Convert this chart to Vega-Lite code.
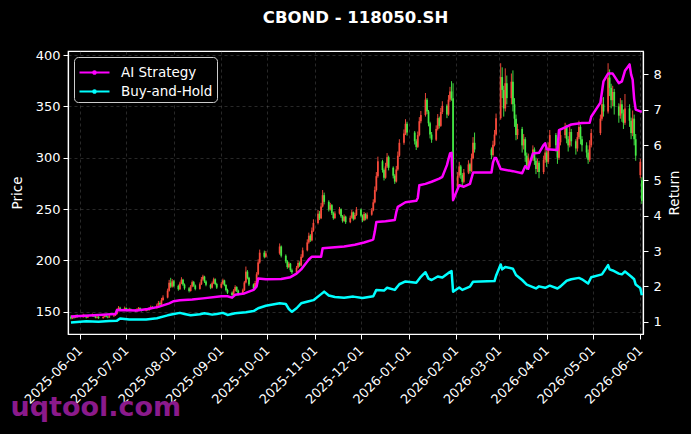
{
"$schema": "https://vega.github.io/schema/vega-lite/v6.json",
"width": 575, "height": 283,
"autosize": {"type": "none"},
"padding": {"left": 68, "top": 51, "right": 48, "bottom": 100},
"background": "#000000",
"title": {"text": "CBOND - 118050.SH", "color": "#ffffff", "fontSize": 16.5, "fontWeight": "bold", "font": "DejaVu Sans", "anchor": "middle", "offset": 23},
"datasets": {
"candles": [
{"d":"2025-05-26","o":145,"h":146.5,"l":142.5,"c":143.5},
{"d":"2025-05-27","o":143.5,"h":146,"l":142.8,"c":145},
{"d":"2025-05-28","o":145,"h":146.2,"l":143.2,"c":144.2},
{"d":"2025-05-29","o":144.2,"h":147,"l":143.8,"c":146},
{"d":"2025-05-30","o":146,"h":147.5,"l":144,"c":144.8},
{"d":"2025-06-03","o":144.8,"h":148,"l":144.2,"c":146.5},
{"d":"2025-06-04","o":146.5,"h":147.2,"l":144.6,"c":145.2},
{"d":"2025-06-05","o":145.2,"h":146,"l":143.5,"c":144.3},
{"d":"2025-06-06","o":144.3,"h":146.8,"l":143.9,"c":145.8},
{"d":"2025-06-09","o":145.8,"h":148.2,"l":145.2,"c":146.8},
{"d":"2025-06-10","o":146.8,"h":147.5,"l":144.8,"c":145.4},
{"d":"2025-06-11","o":145.4,"h":146.2,"l":143.6,"c":144.2},
{"d":"2025-06-12","o":144.2,"h":146,"l":143.4,"c":145},
{"d":"2025-06-13","o":145,"h":145.8,"l":143,"c":143.8},
{"d":"2025-06-16","o":143.8,"h":146,"l":143.2,"c":144.9},
{"d":"2025-06-17","o":144.9,"h":147.4,"l":144.4,"c":146.2},
{"d":"2025-06-18","o":146.2,"h":147,"l":144.5,"c":145.1},
{"d":"2025-06-19","o":145.1,"h":146,"l":143.6,"c":144.4},
{"d":"2025-06-20","o":144.4,"h":146.8,"l":144,"c":145.6},
{"d":"2025-06-23","o":145.6,"h":147.5,"l":145,"c":146.4},
{"d":"2025-06-24","o":146.4,"h":149,"l":145.8,"c":147.8},
{"d":"2025-06-25","o":147.8,"h":153,"l":147.2,"c":151.5},
{"d":"2025-06-26","o":151.5,"h":155.5,"l":150.8,"c":153.8},
{"d":"2025-06-27","o":153.8,"h":154.8,"l":151.5,"c":152.4},
{"d":"2025-06-30","o":152.4,"h":155,"l":151.8,"c":153.6},
{"d":"2025-07-01","o":153.6,"h":154.2,"l":151.2,"c":152},
{"d":"2025-07-02","o":152,"h":153,"l":150.3,"c":151.2},
{"d":"2025-07-03","o":151.2,"h":153.8,"l":150.6,"c":152.6},
{"d":"2025-07-04","o":152.6,"h":153.2,"l":150.8,"c":151.4},
{"d":"2025-07-07","o":151.4,"h":152.4,"l":149.8,"c":150.6},
{"d":"2025-07-08","o":150.6,"h":153.4,"l":150,"c":152.2},
{"d":"2025-07-09","o":152.2,"h":154.6,"l":151.6,"c":153.5},
{"d":"2025-07-10","o":153.5,"h":154.2,"l":151.4,"c":152.1},
{"d":"2025-07-11","o":152.1,"h":152.8,"l":150.2,"c":151},
{"d":"2025-07-14","o":151,"h":153.6,"l":150.4,"c":152.4},
{"d":"2025-07-15","o":152.4,"h":153.2,"l":150.9,"c":151.6},
{"d":"2025-07-16","o":151.6,"h":154.4,"l":151,"c":153},
{"d":"2025-07-17","o":153,"h":156,"l":152.4,"c":154.5},
{"d":"2025-07-18","o":154.5,"h":155.6,"l":152.8,"c":153.6},
{"d":"2025-07-21","o":153.6,"h":157.8,"l":153,"c":156.2},
{"d":"2025-07-22","o":156.2,"h":160.5,"l":155.6,"c":158.5},
{"d":"2025-07-23","o":158.5,"h":160,"l":156,"c":157},
{"d":"2025-07-24","o":157,"h":163.5,"l":156.5,"c":161.5},
{"d":"2025-07-25","o":161.5,"h":166,"l":160.6,"c":163.8},
{"d":"2025-07-28","o":163.8,"h":172.5,"l":163,"c":170.5},
{"d":"2025-07-29","o":170.5,"h":181,"l":169.6,"c":178.2},
{"d":"2025-07-30","o":178.2,"h":183,"l":173.2,"c":174.5},
{"d":"2025-07-31","o":174.5,"h":181.8,"l":173.5,"c":179.6},
{"d":"2025-08-01","o":179.6,"h":180.8,"l":173.8,"c":175.2},
{"d":"2025-08-04","o":175.2,"h":176.4,"l":170.5,"c":172},
{"d":"2025-08-05","o":172,"h":179.2,"l":171.2,"c":177.5},
{"d":"2025-08-06","o":177.5,"h":183.6,"l":176.8,"c":181.2},
{"d":"2025-08-07","o":181.2,"h":182,"l":175.2,"c":176.4},
{"d":"2025-08-08","o":176.4,"h":177.5,"l":171.4,"c":172.8},
{"d":"2025-08-11","o":172.8,"h":174,"l":168.8,"c":170.2},
{"d":"2025-08-12","o":170.2,"h":176,"l":169.6,"c":174.6},
{"d":"2025-08-13","o":174.6,"h":180.4,"l":173.8,"c":178.8},
{"d":"2025-08-14","o":178.8,"h":180,"l":174.2,"c":175.5},
{"d":"2025-08-15","o":175.5,"h":176.5,"l":170.8,"c":172.2},
{"d":"2025-08-18","o":172.2,"h":178.5,"l":171.5,"c":176.8},
{"d":"2025-08-19","o":176.8,"h":183.8,"l":176,"c":181.4},
{"d":"2025-08-20","o":181.4,"h":186,"l":180.2,"c":184.2},
{"d":"2025-08-21","o":184.2,"h":185,"l":178,"c":179.5},
{"d":"2025-08-22","o":179.5,"h":180.6,"l":174.8,"c":176.2},
{"d":"2025-08-25","o":176.2,"h":177.2,"l":172,"c":173.4},
{"d":"2025-08-26","o":173.4,"h":179.4,"l":172.6,"c":177.8},
{"d":"2025-08-27","o":177.8,"h":183.2,"l":176.9,"c":181.6},
{"d":"2025-08-28","o":181.6,"h":182.5,"l":175.8,"c":177},
{"d":"2025-08-29","o":177,"h":178.2,"l":172.2,"c":173.5},
{"d":"2025-09-01","o":173.5,"h":178.8,"l":172.8,"c":177.2},
{"d":"2025-09-02","o":177.2,"h":182.2,"l":176.4,"c":180.5},
{"d":"2025-09-03","o":180.5,"h":181.2,"l":174.8,"c":176},
{"d":"2025-09-04","o":176,"h":176.8,"l":169.8,"c":171.2},
{"d":"2025-09-05","o":171.2,"h":172.4,"l":167.2,"c":168.5},
{"d":"2025-09-08","o":168.5,"h":169.6,"l":164.8,"c":166.2},
{"d":"2025-09-09","o":166.2,"h":172,"l":165.5,"c":170.4},
{"d":"2025-09-10","o":170.4,"h":175.8,"l":169.6,"c":174},
{"d":"2025-09-11","o":174,"h":174.8,"l":169.2,"c":170.6},
{"d":"2025-09-12","o":170.6,"h":171.5,"l":166,"c":167.4},
{"d":"2025-09-15","o":167.4,"h":172.5,"l":166.6,"c":171},
{"d":"2025-09-16","o":171,"h":180,"l":170.2,"c":178.5},
{"d":"2025-09-17","o":178.5,"h":194,"l":177.6,"c":189},
{"d":"2025-09-18","o":189,"h":190.5,"l":181.5,"c":183},
{"d":"2025-09-19","o":183,"h":184,"l":175,"c":176.5},
{"d":"2025-09-22","o":176.5,"h":177.5,"l":171,"c":172.5},
{"d":"2025-09-23","o":172.5,"h":180,"l":171.8,"c":178},
{"d":"2025-09-24","o":178,"h":188.5,"l":177.2,"c":186.5},
{"d":"2025-09-25","o":186.5,"h":201,"l":185.5,"c":198},
{"d":"2025-09-26","o":198,"h":210.5,"l":196.8,"c":207.5},
{"d":"2025-09-29","o":207.5,"h":209.5,"l":202,"c":203.5},
{"d":"2025-09-30","o":203.5,"h":209.2,"l":202.5,"c":206.8},
{"d":"2025-10-09","o":206.8,"h":216.5,"l":205.5,"c":213.5},
{"d":"2025-10-10","o":213.5,"h":214.5,"l":202.8,"c":204.5},
{"d":"2025-10-13","o":204.5,"h":205.8,"l":197.2,"c":199},
{"d":"2025-10-14","o":199,"h":200.2,"l":191.8,"c":193.5},
{"d":"2025-10-15","o":193.5,"h":198.5,"l":192.4,"c":196.8},
{"d":"2025-10-16","o":196.8,"h":197.5,"l":188.8,"c":190.5},
{"d":"2025-10-17","o":190.5,"h":192,"l":186.8,"c":188.5},
{"d":"2025-10-20","o":188.5,"h":194.6,"l":187.6,"c":192.8},
{"d":"2025-10-21","o":192.8,"h":199.8,"l":192,"c":197.5},
{"d":"2025-10-22","o":197.5,"h":199,"l":193.6,"c":195},
{"d":"2025-10-23","o":195,"h":206,"l":194.2,"c":203.5},
{"d":"2025-10-24","o":203.5,"h":212.5,"l":202.4,"c":209.8},
{"d":"2025-10-27","o":209.8,"h":220.5,"l":208.8,"c":217.5},
{"d":"2025-10-28","o":217.5,"h":227,"l":216.2,"c":224},
{"d":"2025-10-29","o":224,"h":225.5,"l":218,"c":219.5},
{"d":"2025-10-30","o":219.5,"h":232,"l":218.6,"c":229},
{"d":"2025-10-31","o":229,"h":240,"l":227.8,"c":236.5},
{"d":"2025-11-03","o":236.5,"h":249,"l":235,"c":245.5},
{"d":"2025-11-04","o":245.5,"h":248,"l":239.2,"c":241},
{"d":"2025-11-05","o":241,"h":256,"l":240.2,"c":252.5},
{"d":"2025-11-06","o":252.5,"h":268.5,"l":251.5,"c":263.5},
{"d":"2025-11-07","o":263.5,"h":266,"l":254.5,"c":257},
{"d":"2025-11-10","o":257,"h":258.5,"l":247.6,"c":249.5},
{"d":"2025-11-11","o":249.5,"h":256,"l":248.5,"c":253.8},
{"d":"2025-11-12","o":253.8,"h":254.8,"l":244.2,"c":246},
{"d":"2025-11-13","o":246,"h":247.5,"l":239.6,"c":241.2},
{"d":"2025-11-14","o":241.2,"h":247.8,"l":240.2,"c":245.6},
{"d":"2025-11-17","o":245.6,"h":252,"l":244.6,"c":249.8},
{"d":"2025-11-18","o":249.8,"h":250.6,"l":241.4,"c":243},
{"d":"2025-11-19","o":243,"h":244.2,"l":236.8,"c":238.5},
{"d":"2025-11-20","o":238.5,"h":244.8,"l":237.6,"c":242.6},
{"d":"2025-11-21","o":242.6,"h":243.5,"l":235.5,"c":237.2},
{"d":"2025-11-24","o":237.2,"h":243.6,"l":236.2,"c":241.5},
{"d":"2025-11-25","o":241.5,"h":249,"l":240.6,"c":246.8},
{"d":"2025-11-26","o":246.8,"h":247.6,"l":238.8,"c":240.4},
{"d":"2025-11-27","o":240.4,"h":246.4,"l":239.5,"c":244.2},
{"d":"2025-11-28","o":244.2,"h":252,"l":243.2,"c":249.5},
{"d":"2025-12-01","o":249.5,"h":250.5,"l":241.8,"c":243.5},
{"d":"2025-12-02","o":243.5,"h":244.6,"l":237.2,"c":239},
{"d":"2025-12-03","o":239,"h":247.2,"l":238.2,"c":245.2},
{"d":"2025-12-04","o":245.2,"h":246.2,"l":239,"c":240.8},
{"d":"2025-12-05","o":240.8,"h":246.6,"l":239.8,"c":244.5},
{"d":"2025-12-08","o":244.5,"h":251,"l":243.5,"c":248.8},
{"d":"2025-12-09","o":248.8,"h":259.5,"l":247.8,"c":256.5},
{"d":"2025-12-10","o":256.5,"h":272,"l":255.5,"c":268.5},
{"d":"2025-12-11","o":268.5,"h":286,"l":267,"c":282},
{"d":"2025-12-12","o":282,"h":301,"l":280.5,"c":296.5},
{"d":"2025-12-15","o":296.5,"h":298,"l":285.5,"c":288},
{"d":"2025-12-16","o":288,"h":289.5,"l":277.8,"c":280.5},
{"d":"2025-12-17","o":280.5,"h":295,"l":279.5,"c":291.5},
{"d":"2025-12-18","o":291.5,"h":304.5,"l":290,"c":300.5},
{"d":"2025-12-19","o":300.5,"h":302,"l":287.6,"c":290.2},
{"d":"2025-12-22","o":290.2,"h":291.5,"l":279.8,"c":282.5},
{"d":"2025-12-23","o":282.5,"h":284,"l":274.5,"c":276.8},
{"d":"2025-12-24","o":276.8,"h":292,"l":275.8,"c":288.5},
{"d":"2025-12-25","o":288.5,"h":306,"l":287.2,"c":302},
{"d":"2025-12-26","o":302,"h":318,"l":300.8,"c":314.5},
{"d":"2025-12-29","o":314.5,"h":327.5,"l":312.6,"c":323.5},
{"d":"2025-12-30","o":323.5,"h":337.5,"l":322,"c":333},
{"d":"2025-12-31","o":333,"h":335,"l":321.5,"c":324.5},
{"d":"2026-01-05","o":324.5,"h":326,"l":312.8,"c":316},
{"d":"2026-01-06","o":316,"h":318,"l":307.5,"c":310.5},
{"d":"2026-01-07","o":310.5,"h":325.5,"l":309.5,"c":322},
{"d":"2026-01-08","o":322,"h":339.5,"l":320.8,"c":335.5},
{"d":"2026-01-09","o":335.5,"h":345.5,"l":333.5,"c":341.5},
{"d":"2026-01-12","o":341.5,"h":363,"l":340,"c":356.5},
{"d":"2026-01-13","o":356.5,"h":358,"l":342.5,"c":345},
{"d":"2026-01-14","o":345,"h":346.5,"l":330.5,"c":333.5},
{"d":"2026-01-15","o":333.5,"h":335,"l":318.8,"c":322.5},
{"d":"2026-01-16","o":322.5,"h":325,"l":314.5,"c":317.5},
{"d":"2026-01-19","o":317.5,"h":331.5,"l":316.2,"c":328},
{"d":"2026-01-20","o":328,"h":342.5,"l":326.5,"c":338.5},
{"d":"2026-01-21","o":338.5,"h":340,"l":328.5,"c":331},
{"d":"2026-01-22","o":331,"h":348.5,"l":330,"c":344.5},
{"d":"2026-01-23","o":344.5,"h":355,"l":342.5,"c":350.5},
{"d":"2026-01-26","o":350.5,"h":352,"l":338.5,"c":342},
{"d":"2026-01-27","o":342,"h":361,"l":340.8,"c":356.5},
{"d":"2026-01-28","o":356.5,"h":369,"l":354.5,"c":364.5},
{"d":"2026-01-29","o":364.5,"h":374.5,"l":355.5,"c":358},
{"d":"2026-01-30","o":358,"h":372.5,"l":267.5,"c":271},
{"d":"2026-02-02","o":271,"h":286,"l":268.5,"c":282.5},
{"d":"2026-02-03","o":282.5,"h":296,"l":280.5,"c":291.5},
{"d":"2026-02-04","o":291.5,"h":293,"l":279.5,"c":283},
{"d":"2026-02-05","o":283,"h":285,"l":272.5,"c":276.5},
{"d":"2026-02-06","o":276.5,"h":289,"l":275,"c":285.5},
{"d":"2026-02-09","o":285.5,"h":297.5,"l":284,"c":293.5},
{"d":"2026-02-10","o":293.5,"h":295,"l":284.5,"c":287},
{"d":"2026-02-11","o":287,"h":304,"l":286,"c":299.5},
{"d":"2026-02-12","o":299.5,"h":320,"l":298.5,"c":314.5},
{"d":"2026-02-13","o":314.5,"h":324.5,"l":305,"c":308},
{"d":"2026-02-24","o":308,"h":310,"l":298.5,"c":302.5},
{"d":"2026-02-25","o":302.5,"h":316.5,"l":301,"c":312.5},
{"d":"2026-02-26","o":312.5,"h":327,"l":311,"c":322.5},
{"d":"2026-02-27","o":322.5,"h":343,"l":321.5,"c":338.5},
{"d":"2026-03-02","o":338.5,"h":392,"l":337,"c":378.5},
{"d":"2026-03-03","o":378.5,"h":388,"l":358,"c":366},
{"d":"2026-03-04","o":366,"h":370,"l":340,"c":348},
{"d":"2026-03-05","o":348,"h":387,"l":345,"c":372.5},
{"d":"2026-03-06","o":372.5,"h":380,"l":352,"c":358},
{"d":"2026-03-09","o":358,"h":382,"l":352,"c":374},
{"d":"2026-03-10","o":374,"h":385,"l":345,"c":352},
{"d":"2026-03-11","o":352,"h":358,"l":330,"c":338},
{"d":"2026-03-12","o":338,"h":342,"l":317,"c":322},
{"d":"2026-03-13","o":322,"h":333,"l":318,"c":328},
{"d":"2026-03-16","o":328,"h":330,"l":305,"c":312},
{"d":"2026-03-17","o":312,"h":323,"l":308,"c":318},
{"d":"2026-03-18","o":318,"h":320,"l":296,"c":302},
{"d":"2026-03-19","o":302,"h":305,"l":288,"c":292},
{"d":"2026-03-20","o":292,"h":304,"l":289,"c":300},
{"d":"2026-03-23","o":300,"h":312,"l":297,"c":308},
{"d":"2026-03-24","o":308,"h":310,"l":293,"c":297},
{"d":"2026-03-25","o":297,"h":300,"l":284,"c":289},
{"d":"2026-03-26","o":289,"h":299,"l":286,"c":295},
{"d":"2026-03-27","o":295,"h":297,"l":280,"c":286},
{"d":"2026-03-30","o":286,"h":302,"l":284,"c":298},
{"d":"2026-03-31","o":298,"h":309,"l":295,"c":305},
{"d":"2026-04-01","o":305,"h":307,"l":291,"c":296},
{"d":"2026-04-02","o":296,"h":315,"l":294,"c":310},
{"d":"2026-04-03","o":310,"h":327,"l":308,"c":322},
{"d":"2026-04-07","o":322,"h":324,"l":306,"c":312},
{"d":"2026-04-08","o":312,"h":314,"l":294,"c":300},
{"d":"2026-04-09","o":300,"h":320,"l":298,"c":315},
{"d":"2026-04-10","o":315,"h":326,"l":312,"c":322},
{"d":"2026-04-13","o":322,"h":334,"l":319,"c":330},
{"d":"2026-04-14","o":330,"h":332,"l":314,"c":318},
{"d":"2026-04-15","o":318,"h":321,"l":306,"c":312},
{"d":"2026-04-16","o":312,"h":330,"l":310,"c":325},
{"d":"2026-04-17","o":325,"h":328,"l":311,"c":316},
{"d":"2026-04-20","o":316,"h":318,"l":303,"c":309},
{"d":"2026-04-21","o":309,"h":325,"l":306,"c":320},
{"d":"2026-04-22","o":320,"h":336,"l":318,"c":330},
{"d":"2026-04-23","o":330,"h":332,"l":313,"c":318},
{"d":"2026-04-24","o":318,"h":321,"l":306,"c":312},
{"d":"2026-04-27","o":312,"h":315,"l":300,"c":305},
{"d":"2026-04-28","o":305,"h":308,"l":294,"c":298},
{"d":"2026-04-29","o":298,"h":317,"l":296,"c":312},
{"d":"2026-04-30","o":312,"h":328,"l":310,"c":324},
{"d":"2026-05-06","o":324,"h":342,"l":322,"c":338},
{"d":"2026-05-07","o":338,"h":358,"l":336,"c":352},
{"d":"2026-05-08","o":352,"h":359,"l":340,"c":345},
{"d":"2026-05-11","o":345,"h":392,"l":343,"c":378},
{"d":"2026-05-12","o":378,"h":386,"l":360,"c":368},
{"d":"2026-05-13","o":368,"h":372,"l":348,"c":356},
{"d":"2026-05-14","o":356,"h":370,"l":350,"c":364},
{"d":"2026-05-15","o":364,"h":367,"l":342,"c":350},
{"d":"2026-05-18","o":350,"h":353,"l":334,"c":341},
{"d":"2026-05-19","o":341,"h":358,"l":338,"c":352},
{"d":"2026-05-20","o":352,"h":356,"l":335,"c":343},
{"d":"2026-05-21","o":343,"h":347,"l":328,"c":334},
{"d":"2026-05-22","o":334,"h":362,"l":332,"c":348},
{"d":"2026-05-25","o":348,"h":352,"l":330,"c":336},
{"d":"2026-05-26","o":336,"h":339,"l":318,"c":324},
{"d":"2026-05-27","o":324,"h":346,"l":321,"c":338},
{"d":"2026-05-28","o":338,"h":342,"l":312,"c":318},
{"d":"2026-05-29","o":318,"h":323,"l":297,"c":302},
{"d":"2026-06-01","o":283,"h":299,"l":280,"c":296},
{"d":"2026-06-02","o":278,"h":281,"l":255,"c":258}
],
"ai": [
{"d":"2025-05-26","v":1.15},{"d":"2025-06-10","v":1.18},{"d":"2025-06-24","v":1.22},{"d":"2025-06-25","v":1.33},
{"d":"2025-07-08","v":1.32},{"d":"2025-07-15","v":1.36},{"d":"2025-07-22","v":1.42},{"d":"2025-07-29","v":1.52},
{"d":"2025-08-01","v":1.58},{"d":"2025-08-05","v":1.61},{"d":"2025-08-13","v":1.63},{"d":"2025-08-20","v":1.66},
{"d":"2025-09-01","v":1.72},{"d":"2025-09-05","v":1.72},{"d":"2025-09-08","v":1.68},{"d":"2025-09-10","v":1.76},
{"d":"2025-09-16","v":1.80},{"d":"2025-09-22","v":1.90},{"d":"2025-09-24","v":2.00},{"d":"2025-09-25","v":2.22},
{"d":"2025-09-30","v":2.20},{"d":"2025-10-10","v":2.21},{"d":"2025-10-16","v":2.26},{"d":"2025-10-20","v":2.36},
{"d":"2025-10-23","v":2.48},{"d":"2025-10-28","v":2.76},{"d":"2025-10-30","v":2.84},{"d":"2025-11-05","v":2.84},
{"d":"2025-11-06","v":3.08},{"d":"2025-11-12","v":3.10},{"d":"2025-11-20","v":3.13},{"d":"2025-11-27","v":3.18},
{"d":"2025-12-03","v":3.24},{"d":"2025-12-08","v":3.31},{"d":"2025-12-09","v":3.33},{"d":"2025-12-10","v":3.55},
{"d":"2025-12-11","v":3.82},{"d":"2025-12-17","v":3.84},{"d":"2025-12-23","v":3.88},{"d":"2025-12-24","v":4.10},
{"d":"2025-12-25","v":4.25},{"d":"2025-12-30","v":4.38},{"d":"2026-01-06","v":4.42},{"d":"2026-01-07","v":4.50},
{"d":"2026-01-08","v":4.86},{"d":"2026-01-12","v":4.90},{"d":"2026-01-16","v":4.96},{"d":"2026-01-21","v":5.05},
{"d":"2026-01-23","v":5.10},{"d":"2026-01-26","v":5.43},{"d":"2026-01-27","v":5.60},{"d":"2026-01-28","v":5.76},
{"d":"2026-01-29","v":5.78},{"d":"2026-01-30","v":4.44},{"d":"2026-02-02","v":4.76},{"d":"2026-02-03","v":4.86},
{"d":"2026-02-06","v":4.82},{"d":"2026-02-10","v":4.90},{"d":"2026-02-12","v":5.22},{"d":"2026-02-24","v":5.22},
{"d":"2026-02-25","v":5.50},{"d":"2026-02-26","v":5.63},{"d":"2026-02-27","v":5.63},{"d":"2026-03-02","v":5.32},
{"d":"2026-03-10","v":5.26},{"d":"2026-03-16","v":5.20},{"d":"2026-03-18","v":5.40},{"d":"2026-03-20","v":5.33},
{"d":"2026-03-23","v":5.76},{"d":"2026-03-27","v":5.78},{"d":"2026-03-30","v":6.00},{"d":"2026-03-31","v":6.05},
{"d":"2026-04-01","v":5.88},{"d":"2026-04-08","v":5.86},{"d":"2026-04-09","v":6.42},{"d":"2026-04-13","v":6.50},
{"d":"2026-04-17","v":6.58},{"d":"2026-04-24","v":6.62},{"d":"2026-04-29","v":6.63},{"d":"2026-04-30","v":6.80},
{"d":"2026-05-06","v":7.20},{"d":"2026-05-07","v":7.50},{"d":"2026-05-08","v":7.80},{"d":"2026-05-11","v":8.02},
{"d":"2026-05-14","v":8.02},{"d":"2026-05-18","v":7.75},{"d":"2026-05-20","v":7.80},{"d":"2026-05-22","v":8.10},
{"d":"2026-05-25","v":8.28},{"d":"2026-05-26","v":8.00},{"d":"2026-05-27","v":7.85},{"d":"2026-05-28","v":7.30},
{"d":"2026-05-29","v":7.00},{"d":"2026-06-01","v":6.95},{"d":"2026-06-02","v":6.95}
],
"bh": [
{"d":"2025-05-26","v":0.98},{"d":"2025-06-05","v":1.01},{"d":"2025-06-13","v":1.00},{"d":"2025-06-20","v":1.02},
{"d":"2025-06-25","v":1.03},{"d":"2025-06-27","v":1.09},{"d":"2025-07-03","v":1.06},{"d":"2025-07-14","v":1.06},
{"d":"2025-07-21","v":1.10},{"d":"2025-07-28","v":1.18},{"d":"2025-08-01","v":1.22},{"d":"2025-08-05","v":1.25},
{"d":"2025-08-08","v":1.22},{"d":"2025-08-12","v":1.18},{"d":"2025-08-18","v":1.21},{"d":"2025-08-21","v":1.24},
{"d":"2025-08-26","v":1.20},{"d":"2025-08-29","v":1.22},{"d":"2025-09-02","v":1.25},{"d":"2025-09-05","v":1.19},
{"d":"2025-09-10","v":1.24},{"d":"2025-09-17","v":1.27},{"d":"2025-09-22","v":1.30},{"d":"2025-09-25","v":1.38},
{"d":"2025-09-30","v":1.45},{"d":"2025-10-09","v":1.52},{"d":"2025-10-13","v":1.50},{"d":"2025-10-15","v":1.36},
{"d":"2025-10-17","v":1.28},{"d":"2025-10-20","v":1.38},{"d":"2025-10-23","v":1.52},{"d":"2025-10-28","v":1.58},
{"d":"2025-10-31","v":1.61},{"d":"2025-11-05","v":1.78},{"d":"2025-11-07","v":1.85},{"d":"2025-11-10","v":1.74},
{"d":"2025-11-14","v":1.70},{"d":"2025-11-20","v":1.68},{"d":"2025-11-26","v":1.71},{"d":"2025-12-02","v":1.67},
{"d":"2025-12-05","v":1.69},{"d":"2025-12-09","v":1.72},{"d":"2025-12-11","v":1.90},{"d":"2025-12-16","v":1.88},
{"d":"2025-12-18","v":1.96},{"d":"2025-12-23","v":1.90},{"d":"2025-12-26","v":2.06},{"d":"2025-12-30","v":2.14},
{"d":"2026-01-06","v":2.10},{"d":"2026-01-09","v":2.27},{"d":"2026-01-12","v":2.40},{"d":"2026-01-14","v":2.22},
{"d":"2026-01-16","v":2.18},{"d":"2026-01-20","v":2.28},{"d":"2026-01-23","v":2.25},{"d":"2026-01-27","v":2.38},
{"d":"2026-01-29","v":2.43},{"d":"2026-01-30","v":1.85},{"d":"2026-02-03","v":1.97},{"d":"2026-02-05","v":1.90},
{"d":"2026-02-10","v":1.99},{"d":"2026-02-12","v":2.13},{"d":"2026-02-26","v":2.15},{"d":"2026-02-27","v":2.30},
{"d":"2026-03-02","v":2.62},{"d":"2026-03-03","v":2.48},{"d":"2026-03-05","v":2.55},{"d":"2026-03-10","v":2.50},
{"d":"2026-03-12","v":2.32},{"d":"2026-03-16","v":2.18},{"d":"2026-03-19","v":2.05},{"d":"2026-03-23","v":1.98},
{"d":"2026-03-25","v":1.94},{"d":"2026-03-27","v":2.00},{"d":"2026-03-31","v":1.96},{"d":"2026-04-03","v":2.02},
{"d":"2026-04-08","v":1.94},{"d":"2026-04-10","v":2.00},{"d":"2026-04-14","v":2.16},{"d":"2026-04-17","v":2.20},
{"d":"2026-04-22","v":2.24},{"d":"2026-04-24","v":2.20},{"d":"2026-04-28","v":2.08},{"d":"2026-04-30","v":2.26},
{"d":"2026-05-07","v":2.34},{"d":"2026-05-11","v":2.60},{"d":"2026-05-12","v":2.48},{"d":"2026-05-14","v":2.45},
{"d":"2026-05-18","v":2.36},{"d":"2026-05-20","v":2.34},{"d":"2026-05-22","v":2.42},{"d":"2026-05-26","v":2.28},
{"d":"2026-05-28","v":2.20},{"d":"2026-05-29","v":2.05},{"d":"2026-06-01","v":1.95},{"d":"2026-06-02","v":1.75}
]
},
"encoding": {
"x": {"field": "d", "type": "temporal",
 "scale": {"type": "utc", "domain": [{"year": 2025, "month": 5, "date": 24, "hours": 2, "utc": true}, {"year": 2026, "month": 6, "date": 2, "hours": 18, "utc": true}]},
 "axis": {
  "values": [
   {"year":2025,"month":6,"date":1,"utc":true},{"year":2025,"month":7,"date":1,"utc":true},{"year":2025,"month":8,"date":1,"utc":true},
   {"year":2025,"month":9,"date":1,"utc":true},{"year":2025,"month":10,"date":1,"utc":true},{"year":2025,"month":11,"date":1,"utc":true},
   {"year":2025,"month":12,"date":1,"utc":true},{"year":2026,"month":1,"date":1,"utc":true},{"year":2026,"month":2,"date":1,"utc":true},
   {"year":2026,"month":3,"date":1,"utc":true},{"year":2026,"month":4,"date":1,"utc":true},{"year":2026,"month":5,"date":1,"utc":true},
   {"year":2026,"month":6,"date":1,"utc":true}],
  "labelExpr": "utcFormat(datum.value, '%Y-%m-%d')",
  "labelAngle": -45, "labelAlign": "right", "labelBaseline": "middle", "labelPadding": 9,
  "labelOverlap": false, "labelFlush": false, "grid": true,
  "title": "uqtool.com", "titleColor": "#8b1a8b", "titleFontSize": 27, "titleFontWeight": "bold",
  "titleX": -58, "titleY": 81, "titleAlign": "left", "titleBaseline": "alphabetic", "titleAngle": 0
 }}
},
"layer": [
 {"data": {"name": "candles"},
  "layer": [
   {"mark": {"type": "rule", "strokeWidth": 1, "opacity": 0.9},
    "encoding": {
     "y": {"field": "l", "type": "quantitative", "title": "Price", "scale": {"domain": [128.3, 403.9], "nice": false, "zero": false},
       "axis": {"title": "Price", "values": [150, 200, 250, 300, 350, 400], "grid": true, "labelPadding": 3, "titlePadding": 11}},
     "y2": {"field": "h"},
     "color": {"condition": {"test": "datum.c >= datum.o", "value": "#ff4d3d"}, "value": "#47f047"}}},
   {"mark": {"type": "rule", "strokeWidth": 1.8, "opacity": 0.9},
    "encoding": {
     "y": {"field": "o", "type": "quantitative", "title": "Price", "scale": {"domain": [128.3, 403.9], "nice": false, "zero": false},
       "axis": {"title": "Price", "values": [150, 200, 250, 300, 350, 400], "grid": true, "labelPadding": 3, "titlePadding": 11}},
     "y2": {"field": "c"},
     "color": {"condition": {"test": "datum.c >= datum.o", "value": "#ff4d3d"}, "value": "#47f047"}}}
  ]},
 {"encoding": {
   "y": {"field": "v", "type": "quantitative", "title": "Return", "scale": {"domain": [0.652, 8.66], "nice": false, "zero": false},
     "axis": {"orient": "right", "title": "Return", "values": [1, 2, 3, 4, 5, 6, 7, 8], "grid": false, "labelPadding": 5, "titlePadding": 6, "titleAngle": 270, "titleBaseline": "top"}}},
  "layer": [
   {"data": {"name": "ai"}, "mark": {"type": "line", "strokeWidth": 2.5, "strokeJoin": "round"},
    "encoding": {"color": {"datum": "AI Strategy", "type": "nominal",
      "scale": {"domain": ["AI Strategy", "Buy-and-Hold"], "range": ["#ff00ff", "#00ffff"]},
      "legend": {"title": null, "orient": "top-left", "offset": 6, "fillColor": "#000000", "strokeColor": "#cccccc", "cornerRadius": 4, "padding": 4,
        "labelColor": "#ffffff", "labelFontSize": 13.5, "labelFont": "DejaVu Sans", "labelOffset": 20,
        "symbolType": "M-1,0H2M0.38,0A0.12,0.12,0,1,1,0.62,0A0.12,0.12,0,1,1,0.38,0", "symbolSize": 400, "symbolStrokeWidth": 2.2, "rowPadding": 1}}}},
   {"data": {"name": "bh"}, "mark": {"type": "line", "strokeWidth": 2.5, "strokeJoin": "round"},
    "encoding": {"color": {"datum": "Buy-and-Hold", "type": "nominal"}}}
  ]}
],
"resolve": {"scale": {"y": "independent"}},
"config": {
 "background": "#000000",
 "view": {"stroke": "#ffffff", "strokeWidth": 1.2},
 "font": "DejaVu Sans",
 "axis": {"labelColor": "#ffffff", "labelFont": "DejaVu Sans", "labelFontSize": 13, "tickColor": "#ffffff", "tickSize": 5, "tickWidth": 1,
   "domainColor": "#ffffff", "domainWidth": 1.2, "titleColor": "#ffffff", "titleFont": "DejaVu Sans", "titleFontSize": 13.5, "titleFontWeight": "normal",
   "gridColor": "#808080", "gridDash": [3, 3], "gridOpacity": 0.45, "gridWidth": 0.7}
}
}
